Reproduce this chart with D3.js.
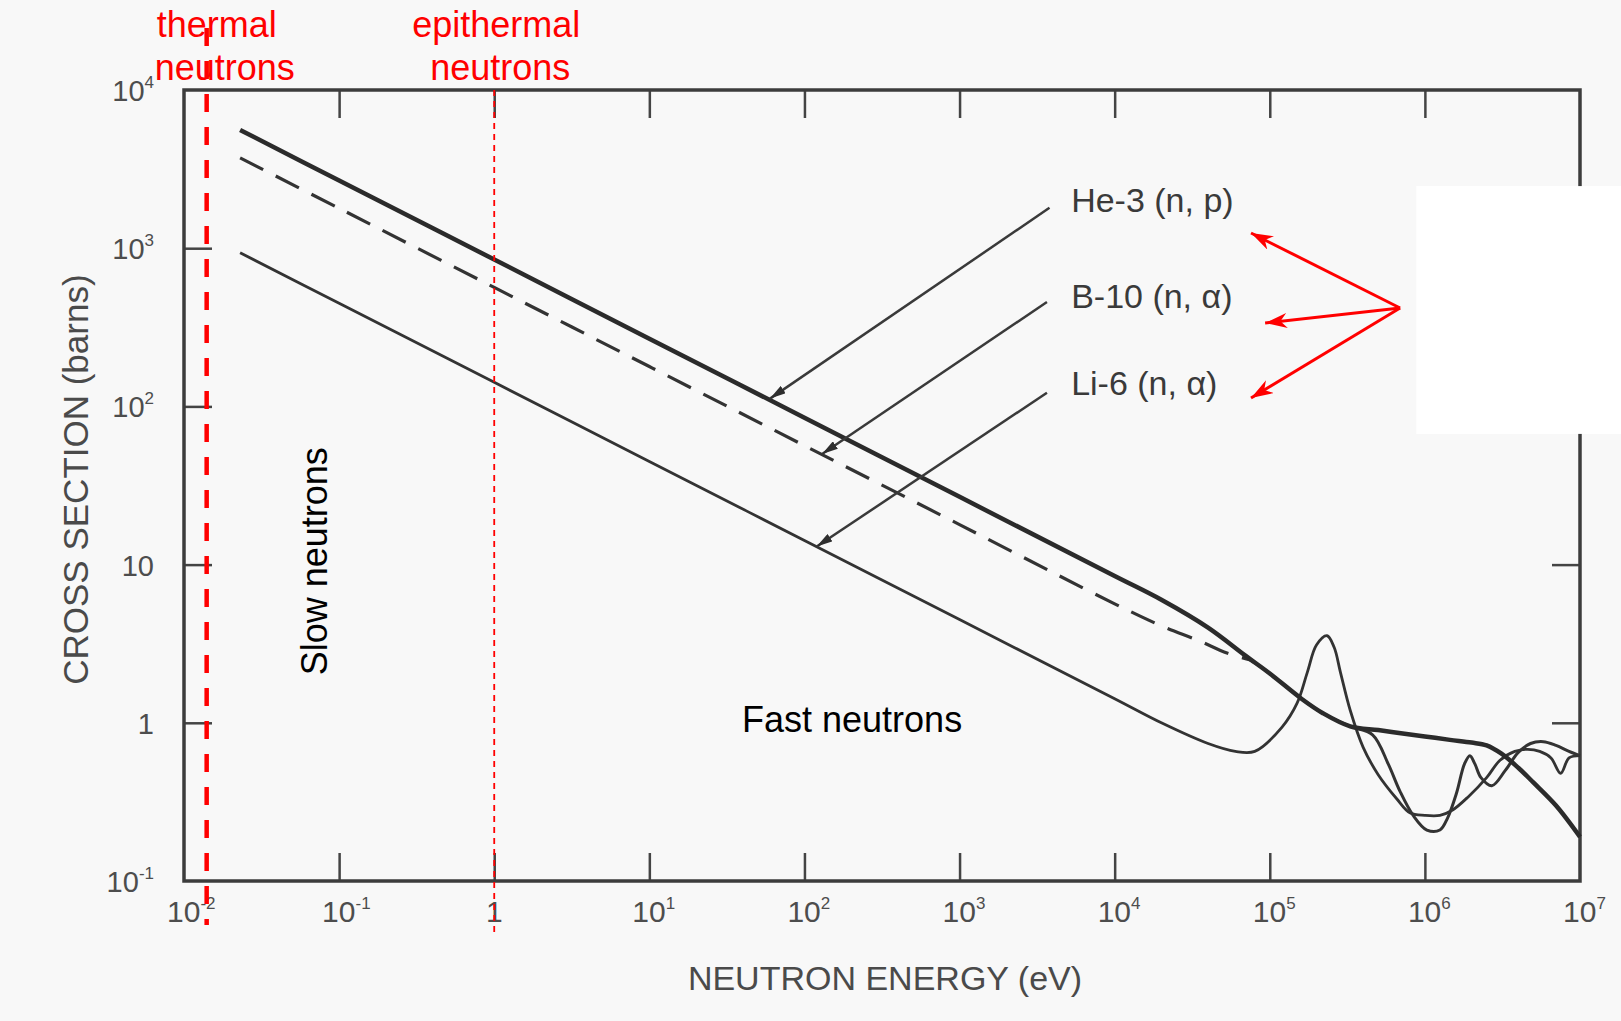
<!DOCTYPE html>
<html>
<head>
<meta charset="utf-8">
<script src="https://cdn.jsdelivr.net/npm/d3@7"></script>
<style>
body { margin: 0; background: #fff; }
svg { display: block; }
text { font-family: "Liberation Sans", Arial, sans-serif; }
</style>
</head>
<body>
<script>
// energies in eV, cross sections in barns
const he3E = [0.023, 0.1, 1, 10, 100, 1000, 1e4, 2e4, 4e4, 7e4, 1e5, 1.6e5, 2.2e5, 3.3e5, 5e5, 7e5, 1e6, 1.45e6, 2e6, 2.5e6, 3.1e6, 4e6, 5e6, 7e6, 1e7];
const he3S = [5590, 2680, 848, 268, 84.8, 26.8, 8.48, 6.0, 4.0, 2.65, 2.05, 1.42, 1.15, 0.95, 0.9, 0.86, 0.82, 0.78, 0.75, 0.72, 0.64, 0.52, 0.42, 0.3, 0.19];

const b10LowE = [0.023, 0.1, 1, 10, 100, 1000, 1e4, 2e4, 3.5e4, 5.3e4, 7.5e4];
const b10LowS = [3725, 1787, 565, 178.7, 56.5, 17.9, 5.65, 4.1, 3.3, 2.76, 2.5];
const b10HighE = [7.5e4, 1e5, 1.6e5, 2.2e5, 3.3e5, 4.6e5, 5.8e5, 6.9e5, 8.4e5, 1.03e6, 1.25e6, 1.4e6, 1.6e6, 1.8e6, 1.95e6, 2.1e6, 2.3e6, 2.7e6, 3.3e6, 4e6, 4.8e6, 5.8e6, 7e6, 8.5e6, 1e7];
const b10HighS = [2.5, 2.05, 1.42, 1.15, 0.95, 0.84, 0.55, 0.37, 0.26, 0.21, 0.21, 0.25, 0.36, 0.55, 0.62, 0.55, 0.45, 0.4, 0.5, 0.65, 0.74, 0.76, 0.72, 0.66, 0.62];

const li6E = [0.023, 0.1, 1, 10, 100, 1000, 1e4, 2e4, 4e4, 6e4, 8e4, 1.2e5, 1.5e5, 1.75e5, 2e5, 2.34e5, 2.6e5, 2.85e5, 3.3e5, 4e5, 5e5, 6.6e5, 8e5, 1e6, 1.25e6, 1.5e6, 1.9e6, 2.5e6, 3.05e6, 3.8e6, 4.6e6, 5.5e6, 6.5e6, 7.5e6, 8.5e6, 1e7];
const li6S = [936, 449, 142, 44.9, 14.2, 4.49, 1.42, 1.0, 0.74, 0.66, 0.66, 0.94, 1.33, 2.1, 3.1, 3.55, 3.0, 2.1, 1.2, 0.7, 0.47, 0.33, 0.27, 0.26, 0.26, 0.28, 0.34, 0.45, 0.58, 0.66, 0.68, 0.66, 0.6, 0.48, 0.6, 0.62];

const xTicks = [1e-2, 1e-1, 1, 1e1, 1e2, 1e3, 1e4, 1e5, 1e6, 1e7];
const xTickBase = ["10", "10", "1", "10", "10", "10", "10", "10", "10", "10"];
const xTickExp = ["-2", "-1", "", "1", "2", "3", "4", "5", "6", "7"];
const yTicks = [1e4, 1e3, 1e2, 10, 1, 0.1];
const yTickBase = ["10", "10", "10", "10", "1", "10"];
const yTickExp = ["4", "3", "2", "", "", "-1"];

const seriesLabels = ["He-3 (n, p)", "B-10 (n, α)", "Li-6 (n, α)"];
const labelAt = [[5240, 1690], [5240, 419], [5240, 118]];
const leaderFrom = [[3800, 1800], [3660, 457], [3660, 122]];
const leaderTo = [[60, 112], [130, 50], [120, 13]];
const redFrom = [6.92e5, 419];
const redTo = [[7.57e4, 1247], [9.33e4, 337], [7.57e4, 113]];

const thermalE = 0.014;
const epithermalE = 1;

const margin = {top: 90, right: 41, bottom: 140, left: 184};
const width = 1621 - margin.left - margin.right;
const height = 1021 - margin.top - margin.bottom;

const x = d3.scaleLog().domain([1e-2, 1e7]).range([0, width]);
const y = d3.scaleLog().domain([0.1, 1e4]).range([height, 0]);

const root = d3.select("body").append("svg")
.attr("width", width + margin.left + margin.right)
.attr("height", height + margin.top + margin.bottom);

root.append("rect")
.attr("width", width + margin.left + margin.right)
.attr("height", height + margin.top + margin.bottom)
.attr("fill", "#f8f8f8");

const defs = root.append("defs");
defs.append("marker")
.attr("id", "greyHead")
.attr("viewBox", "0 0 10 10")
.attr("refX", 10).attr("refY", 5)
.attr("markerUnits", "userSpaceOnUse")
.attr("markerWidth", 16).attr("markerHeight", 9)
.attr("preserveAspectRatio", "none")
.attr("orient", "auto")
.append("path").attr("d", "M0,0L10,5L0,10Z").attr("fill", "#2e2e2e");
defs.append("marker")
.attr("id", "redHead")
.attr("viewBox", "0 0 10 10")
.attr("refX", 10).attr("refY", 5)
.attr("markerUnits", "userSpaceOnUse")
.attr("markerWidth", 22).attr("markerHeight", 15)
.attr("preserveAspectRatio", "none")
.attr("orient", "auto")
.append("path").attr("d", "M0,0L10,5L0,10L3,5Z").attr("fill", "#ff0000");

const svg = root.append("g")
.attr("transform", "translate(" + margin.left + "," + margin.top + ")");

// inner ticks on all four sides
const tickLen = 28;
const xInner = xTicks.slice(1, -1);
const yInner = yTicks.slice(1, -1);
[
  [d3.axisBottom(x).tickValues(xInner), "translate(0," + height + ")"],
  [d3.axisTop(x).tickValues(xInner), null],
  [d3.axisLeft(y).tickValues(yInner), null],
  [d3.axisRight(y).tickValues(yInner), "translate(" + width + ",0)"]
].forEach(([ax, tr]) => {
  const g = svg.append("g").call(ax.tickSize(-tickLen).tickSizeOuter(0).tickFormat(""));
  if (tr) g.attr("transform", tr);
  g.select(".domain").remove();
  g.selectAll("line").attr("stroke", "#444").attr("stroke-width", 2.5);
});

svg.append("rect")
.attr("width", width)
.attr("height", height)
.attr("fill", "none")
.attr("stroke", "#3c3c3c")
.attr("stroke-width", 3.5);

// tick labels
xTicks.forEach((v, i) => {
  const t = svg.append("text")
  .attr("x", xTickExp[i] ? x(v) - 17 : x(v))
  .attr("y", height + 41)
  .attr("text-anchor", xTickExp[i] ? "start" : "middle")
  .style("font-size", "30px")
  .style("fill", "#4d4d4d")
  .text(xTickBase[i]);
  if (xTickExp[i]) t.append("tspan").attr("dy", -13).style("font-size", "17px").text(xTickExp[i]);
});

yTicks.forEach((v, i) => {
  const t = svg.append("text")
  .attr("x", -30)
  .attr("y", y(v) + 11)
  .attr("text-anchor", "end")
  .style("font-size", "29px")
  .style("fill", "#4d4d4d")
  .text(yTickBase[i]);
  if (yTickExp[i]) t.append("tspan").attr("dy", -13).style("font-size", "17px").text(yTickExp[i]);
});

svg.append("text")
.attr("x", width / 2 + 3)
.attr("y", height + 109)
.attr("text-anchor", "middle")
.style("font-size", "34px")
.style("fill", "#4a4a4a")
.text("NEUTRON ENERGY (eV)");

svg.append("text")
.attr("transform", "translate(" + (-96) + "," + (y(10) - 85) + ") rotate(-90)")
.attr("text-anchor", "middle")
.style("font-size", "35px")
.style("fill", "#4a4a4a")
.text("CROSS SECTION (barns)");

// curves
const line = d3.line()
.x(d => x(d[0]))
.y(d => y(d[1]))
.curve(d3.curveCatmullRom.alpha(0.5));

const zip = (a, b) => a.map((v, i) => [v, b[i]]);

svg.append("path")
.attr("d", line(zip(li6E, li6S)))
.attr("fill", "none")
.attr("stroke", "#333")
.attr("stroke-width", 2.8);

svg.append("path")
.attr("d", line(zip(b10LowE, b10LowS)))
.attr("fill", "none")
.attr("stroke", "#333")
.attr("stroke-width", 3.2)
.attr("stroke-dasharray", "26,14");

svg.append("path")
.attr("d", line(zip(b10HighE, b10HighS)))
.attr("fill", "none")
.attr("stroke", "#333")
.attr("stroke-width", 3);

svg.append("path")
.attr("d", line(zip(he3E, he3S)))
.attr("fill", "none")
.attr("stroke", "#2b2b2b")
.attr("stroke-width", 4.5);

// leader lines and series labels
leaderFrom.forEach((p, i) => {
  svg.append("line")
  .attr("x1", x(p[0])).attr("y1", y(p[1]))
  .attr("x2", x(leaderTo[i][0])).attr("y2", y(leaderTo[i][1]))
  .attr("stroke", "#3a3a3a")
  .attr("stroke-width", 2.5)
  .attr("marker-end", "url(#greyHead)");

  svg.append("text")
  .attr("x", x(labelAt[i][0]))
  .attr("y", y(labelAt[i][1]))
  .style("font-size", "34px")
  .style("fill", "#3a3a3a")
  .text(seriesLabels[i]);
});

// white patch over the right edge, as in the original
svg.append("rect")
.attr("x", x(8.8e5))
.attr("y", y(2470))
.attr("width", width + margin.right - x(8.8e5))
.attr("height", y(67) - y(2470))
.attr("fill", "#fff");

redTo.forEach(p => {
  svg.append("line")
  .attr("x1", x(redFrom[0])).attr("y1", y(redFrom[1]))
  .attr("x2", x(p[0])).attr("y2", y(p[1]))
  .attr("stroke", "#ff0000")
  .attr("stroke-width", 3)
  .attr("marker-end", "url(#redHead)");
});

// thermal / epithermal markers
svg.append("line")
.attr("x1", x(thermalE)).attr("x2", x(thermalE))
.attr("y1", -62).attr("y2", height + 44)
.attr("stroke", "#ff0000")
.attr("stroke-width", 4.5)
.attr("stroke-dasharray", "18,15");

svg.append("line")
.attr("x1", x(epithermalE)).attr("x2", x(epithermalE))
.attr("y1", 0).attr("y2", height + 55)
.attr("stroke", "#ff0000")
.attr("stroke-width", 1.8)
.attr("stroke-dasharray", "6,5");

const redText = (tx, ty, s) => svg.append("text")
.attr("x", tx).attr("y", ty)
.attr("text-anchor", "middle")
.style("font-size", "36px")
.style("fill", "#ff0000")
.text(s);

redText(x(thermalE) + 10, -53, "thermal");
redText(x(thermalE) + 18, -10, "neutrons");
redText(x(epithermalE) + 2, -53, "epithermal");
redText(x(epithermalE) + 6, -10, "neutrons");

svg.append("text")
.attr("transform", "translate(" + (x(0.084)) + "," + y(10.5) + ") rotate(-90)")
.attr("text-anchor", "middle")
.style("font-size", "36px")
.style("fill", "#000")
.text("Slow neutrons");

svg.append("text")
.attr("x", x(39.6))
.attr("y", y(0.875))
.style("font-size", "36px")
.style("fill", "#000")
.text("Fast neutrons");
</script>
</body>
</html>
